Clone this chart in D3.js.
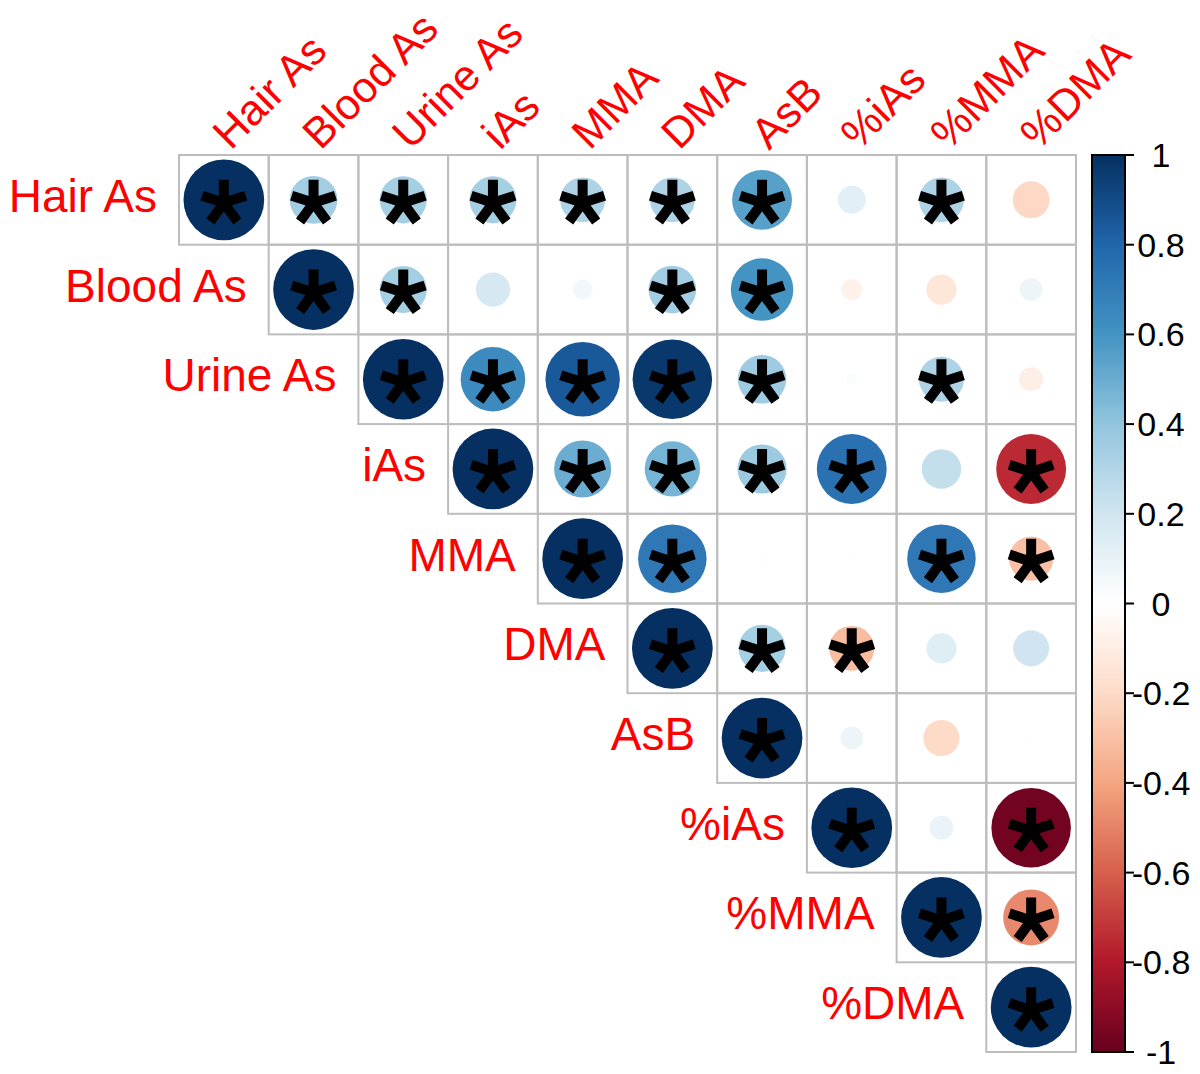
<!DOCTYPE html>
<html>
<head>
<meta charset="utf-8">
<script src="https://cdn.jsdelivr.net/npm/d3@7"></script>
<style>
  body { margin: 0; background: #fff; }
  text { font-family: "Liberation Sans", Arial, sans-serif; }
</style>
</head>
<body>
<div id="chart"></div>
<script>
// variable names (rows and columns)
var vars = ["Hair As", "Blood As", "Urine As", "iAs", "MMA", "DMA", "AsB", "%iAs", "%MMA", "%DMA"];

// upper triangle correlations, row i starts at column i
var corrRows = [
  [1, 0.35, 0.34, 0.34, 0.31, 0.31, 0.55, 0.12, 0.31, -0.21],
  [1, 0.34, 0.18, 0.06, 0.35, 0.60, -0.07, -0.14, 0.08],
  [1, 0.64, 0.85, 0.97, 0.36, 0.02, 0.31, -0.09],
  [1, 0.50, 0.47, 0.37, 0.75, 0.24, -0.75],
  [1, 0.72, 0.01, 0.005, 0.72, -0.30],
  [1, 0.34, -0.31, 0.14, 0.20],
  [1, 0.08, -0.20, 0.005],
  [1, 0.09, -0.97],
  [1, -0.48],
  [1]
];

// significance flags, same layout (1 = star)
var sigRows = [
  [1, 1, 1, 1, 1, 1, 1, 0, 1, 0],
  [1, 1, 0, 0, 1, 1, 0, 0, 0],
  [1, 1, 1, 1, 1, 0, 1, 0],
  [1, 1, 1, 1, 1, 0, 1],
  [1, 1, 0, 0, 1, 1],
  [1, 1, 1, 0, 0],
  [1, 0, 0, 0],
  [1, 0, 1],
  [1, 1],
  [1]
];

// colour bar ticks
var barTicks = [1, 0.8, 0.6, 0.4, 0.2, 0, -0.2, -0.4, -0.6, -0.8, -1];
var barTickLabels = ["1", "0.8", "0.6", "0.4", "0.2", "0", "-0.2", "-0.4", "-0.6", "-0.8", "-1"];

// corrplot RdBu palette
var palette = ["#67001F", "#B2182B", "#D6604D", "#F4A582", "#FDDBC7", "#FFFFFF",
               "#D1E5F0", "#92C5DE", "#4393C3", "#2166AC", "#053061"];

var w = 1200, h = 1074;
var gridLeft = 179, gridTop = 155, gridSize = 897;
var n = vars.length;

var svg = d3.select("#chart").append("svg")
  .attr("width", w)
  .attr("height", h);

var x = d3.scaleBand().domain(d3.range(n)).range([gridLeft, gridLeft + gridSize]);
var y = d3.scaleBand().domain(d3.range(n)).range([gridTop, gridTop + gridSize]);
var cell = x.bandwidth();

var color = d3.scaleLinear()
  .domain(d3.range(palette.length).map(function(k){ return -1 + 2 * k / (palette.length - 1); }))
  .range(palette);

// radius like corrplot: area ~ |r|
var radius = d3.scaleSqrt().domain([0, 1]).range([0, 0.45 * cell]);

// flatten the triangle
var cells = [];
corrRows.forEach(function(row, i){
  row.forEach(function(v, k){
    cells.push({i: i, j: i + k, r: v, sig: sigRows[i][k]});
  });
});

// grid
svg.append("g").selectAll("rect")
  .data(cells)
  .enter().append("rect")
  .attr("x", function(d){ return x(d.j); })
  .attr("y", function(d){ return y(d.i); })
  .attr("width", cell)
  .attr("height", cell)
  .style("fill", "none")
  .style("stroke", "#bdbdbd")
  .style("stroke-width", 2);

// circles
svg.append("g").selectAll("circle")
  .data(cells)
  .enter().append("circle")
  .attr("cx", function(d){ return x(d.j) + cell / 2; })
  .attr("cy", function(d){ return y(d.i) + cell / 2; })
  .attr("r", function(d){ return radius(Math.abs(d.r)); })
  .style("fill", function(d){ return color(d.r); });

// stars (5 armed asterisk)
var armLen = 23;
var starPath = "";
for (var a = 0; a < 5; a++) {
  var ang = (a * 72 - 90) * Math.PI / 180;
  starPath += "M0,0L" + (armLen * Math.cos(ang)).toFixed(2) + "," + (armLen * Math.sin(ang)).toFixed(2);
}
svg.append("g").selectAll("path")
  .data(cells.filter(function(d){ return d.sig; }))
  .enter().append("path")
  .attr("d", starPath)
  .attr("transform", function(d){
    return "translate(" + (x(d.j) + cell / 2) + "," + (y(d.i) + cell / 2 + 3) + ")";
  })
  .style("fill", "none")
  .style("stroke", "#000")
  .style("stroke-width", 10);

// row labels
svg.append("g").selectAll("text")
  .data(vars)
  .enter().append("text")
  .attr("x", function(d, i){ return x(i) - 22; })
  .attr("y", function(d, i){ return y(i) + cell / 2 + 12; })
  .attr("text-anchor", "end")
  .style("font-size", "46px")
  .style("fill", "#ff0000")
  .text(function(d){ return d; });

// column labels
svg.append("g").selectAll("text")
  .data(vars)
  .enter().append("text")
  .attr("transform", function(d, i){
    return "translate(" + (x(i) + cell / 2 + 7) + "," + (gridTop - 4) + ") rotate(-45)";
  })
  .attr("text-anchor", "start")
  .style("font-size", "43px")
  .style("fill", "#ff0000")
  .text(function(d){ return d; });

// colour bar
var barX = 1092, barW = 33;
var by = d3.scaleLinear().domain([-1, 1]).range([gridTop + gridSize, gridTop]);

var grad = svg.append("defs").append("linearGradient")
  .attr("id", "bar")
  .attr("x1", 0).attr("y1", 1).attr("x2", 0).attr("y2", 0);
palette.forEach(function(c, k){
  grad.append("stop")
    .attr("offset", k / (palette.length - 1))
    .attr("stop-color", c);
});

svg.append("rect")
  .attr("x", barX)
  .attr("y", by(1))
  .attr("width", barW)
  .attr("height", by(-1) - by(1))
  .style("fill", "url(#bar)")
  .style("stroke", "#000")
  .style("stroke-width", 2);

svg.append("g").selectAll("line")
  .data(barTicks)
  .enter().append("line")
  .attr("x1", barX + barW)
  .attr("x2", barX + barW + 9)
  .attr("y1", function(d){ return by(d); })
  .attr("y2", function(d){ return by(d); })
  .style("stroke", "#000")
  .style("stroke-width", 2);

svg.append("g").selectAll("text")
  .data(barTicks)
  .enter().append("text")
  .attr("x", 1161)
  .attr("y", function(d){ return by(d) + 12; })
  .attr("text-anchor", "middle")
  .style("font-size", "34px")
  .style("fill", "#000")
  .text(function(d, k){ return barTickLabels[k]; });
</script>
</body>
</html>
